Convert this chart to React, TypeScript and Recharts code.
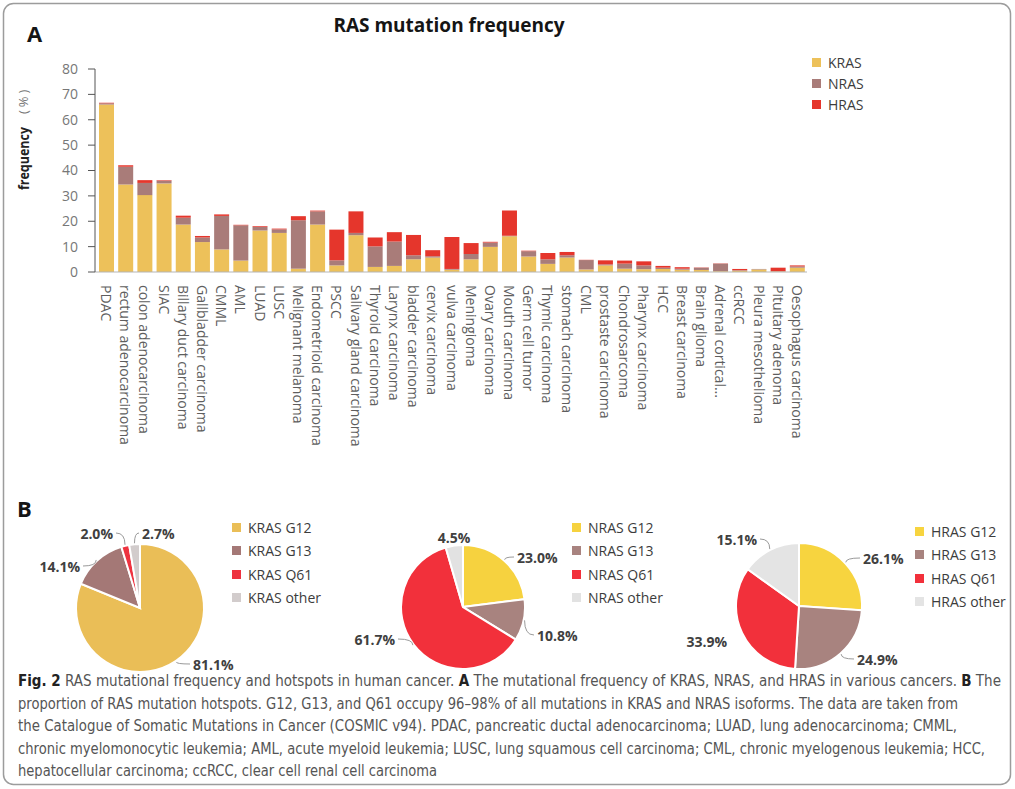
import React from 'react';
import { BarChart, Bar, XAxis, YAxis, Legend, PieChart, Pie, Cell } from 'recharts';

// panel A: mutation frequency (%) per cancer type
const cancers = [
  'PDAC', 'rectum adenocarcinoma', 'colon adenocarcinoma', 'SIAC', 'Billary duct carcinoma',
  'Gallbladder carcinoma', 'CMML', 'AML', 'LUAD', 'LUSC', 'Melignant melanoma',
  'Endometrioid carcinoma', 'PSCC', 'Salivary gland carcinoma', 'Thyroid carcinoma',
  'Larynx carcinoma', 'bladder carcinoma', 'cervix carcinoma', 'vulva carcinoma', 'Meningioma',
  'Ovary carcinoma', 'Mouth carcinoma', 'Germ cell tumor', 'Thymic carcinoma', 'stomach carcinoma',
  'CML', 'prostaste carcinoma', 'Chondrosarcoma', 'Pharynx carcinoma', 'HCC', 'Breast carcinoma',
  'Brain glioma', 'Adrenal cortical...', 'ccRCC', 'Pleura mesothelioma', 'Pituitary adenoma',
  'Oesophagus carcinoma',
];
const krasFreq = [66.0, 34.5, 30.3, 34.9, 18.7, 11.8, 8.9, 4.5, 16.4, 15.4, 1.3, 18.7, 2.6, 14.5, 2.0, 2.4, 5.0, 5.7, 0.9, 5.0, 9.9, 14.1, 6.1, 3.2, 5.7, 1.0, 2.6, 1.3, 1.1, 1.2, 0.9, 0.8, 0.3, 0.5, 1.0, 0.2, 1.7];
const nrasFreq = [0.5, 7.0, 4.8, 1.1, 2.7, 1.8, 13.2, 13.9, 1.3, 1.4, 19.1, 5.2, 2.0, 0.9, 8.1, 9.6, 1.6, 0.5, 0.3, 2.1, 1.7, 0.2, 2.1, 1.8, 0.9, 3.7, 0.4, 2.0, 1.5, 0.5, 0.4, 0.9, 3.0, 0.2, 0.2, 0.1, 0.5];
const hrasFreq = [0.2, 0.6, 1.1, 0.2, 0.8, 0.6, 0.6, 0.2, 0.3, 0.3, 1.6, 0.3, 12.1, 8.5, 3.5, 3.7, 8.0, 2.4, 12.6, 4.3, 0.3, 9.9, 0.2, 2.5, 1.3, 0.1, 1.6, 1.2, 1.6, 0.7, 0.6, 0.1, 0.1, 0.5, 0.0, 1.4, 0.4];
const seriesNames = ['KRAS', 'NRAS', 'HRAS'];
const seriesColors = ['#EDC15A', '#A97C79', '#E5362C'];
const yTicks = [0, 10, 20, 30, 40, 50, 60, 70, 80];

// panel B: hotspot shares (%)
const krasSpots = ['KRAS G12', 'KRAS G13', 'KRAS Q61', 'KRAS other'];
const krasShare = [81.1, 14.1, 2.0, 2.7];
const nrasSpots = ['NRAS G12', 'NRAS G13', 'NRAS Q61', 'NRAS other'];
const nrasShare = [23.0, 10.8, 61.7, 4.5];
const hrasSpots = ['HRAS G12', 'HRAS G13', 'HRAS Q61', 'HRAS other'];
const hrasShare = [26.1, 24.9, 33.9, 15.1];

const krasColors = ['#EABE57', '#A47876', '#EE3340', '#D2CCCC'];
const nrasColors = ['#F6D23F', '#A8837F', '#F2303B', '#E2E2E2'];
const hrasColors = ['#F7D43F', '#A8837F', '#F2303B', '#E4E4E4'];

// where each slice label sits, relative to the pie centre
const krasLabelPos = [
  { dx: 53, dy: 56, anchor: 'start', line: true },
  { dx: -60, dy: -42, anchor: 'end', line: true },
  { dx: -27, dy: -75, anchor: 'end', line: true },
  { dx: 2, dy: -75, anchor: 'start', line: true },
];
const nrasLabelPos = [
  { dx: 54, dy: -50, anchor: 'start', line: true },
  { dx: 74, dy: 28, anchor: 'start', line: true },
  { dx: -68, dy: 32, anchor: 'end', line: true },
  { dx: -9, dy: -70, anchor: 'middle', line: false },
];
const hrasLabelPos = [
  { dx: 64, dy: -48, anchor: 'start', line: true },
  { dx: 58, dy: 53, anchor: 'start', line: true },
  { dx: -72, dy: 35, anchor: 'end', line: false },
  { dx: -42, dy: -67, anchor: 'end', line: true },
];

const FONT = '"Open Sans", "DejaVu Sans", sans-serif';
const CAPTION_FONT = '"Liberation Sans Narrow", "DejaVu Sans Condensed", "Open Sans", sans-serif';
const RADIAN = Math.PI / 180;

const barData = cancers.map((name, i) => ({
  name,
  KRAS: krasFreq[i],
  NRAS: nrasFreq[i],
  HRAS: hrasFreq[i],
}));

const CancerTick = ({ x, y, payload }: any) => (
  <text
    x={x}
    y={y}
    transform={`rotate(90, ${x}, ${y})`}
    textAnchor="start"
    dominantBaseline="central"
    fontSize={14}
    fill="#5e5e5e"
    fontFamily={FONT}
  >
    {payload.value}
  </text>
);

const SwatchLegend = ({ names, colors, rowH }: { names: string[]; colors: string[]; rowH: number }) => (
  <div style={{ fontFamily: FONT, fontSize: 14, color: '#3c3c3c' }}>
    {names.map((n, i) => (
      <div key={n} style={{ display: 'flex', alignItems: 'center', height: rowH, whiteSpace: 'nowrap' }}>
        <span style={{ width: 9, height: 9, background: colors[i], marginRight: 7, display: 'inline-block' }} />
        {n}
      </div>
    ))}
  </div>
);

const makeLabel = (layout: any[]) => (props: any) => {
  const { cx, cy, midAngle, outerRadius, index, value } = props;
  const pos = layout[index];
  const lx = cx + pos.dx;
  const ly = cy + pos.dy;
  const ex = cx + (outerRadius + 1) * Math.cos(-midAngle * RADIAN);
  const ey = cy + (outerRadius + 1) * Math.sin(-midAngle * RADIAN);
  const sx = pos.anchor === 'start' ? lx - 3 : lx + 3;
  return (
    <g>
      {pos.line && (
        <path d={`M ${sx} ${ly} Q ${ex} ${ly} ${ex} ${ey}`} stroke="#9a9a9a" strokeWidth={1} fill="none" />
      )}
      <text
        x={lx}
        y={ly}
        textAnchor={pos.anchor}
        dominantBaseline="central"
        fontSize={14}
        fontWeight={700}
        fill="#404040"
        fontFamily={FONT}
      >
        {`${Number(value).toFixed(1)}%`}
      </text>
    </g>
  );
};

const HotspotPie = ({ names, shares, colors, labelPos, left, cx, cy, r, legendLeft, legendTop }: any) => {
  const data = names.map((name: string, i: number) => ({ name, value: shares[i] }));
  return (
    <div style={{ position: 'absolute', left, top: 490 }}>
      <PieChart width={340} height={186}>
        <Pie
          data={data}
          dataKey="value"
          nameKey="name"
          cx={cx}
          cy={cy}
          outerRadius={r}
          startAngle={90}
          endAngle={-270}
          stroke="#ffffff"
          strokeWidth={2}
          label={makeLabel(labelPos)}
          labelLine={false}
          isAnimationActive={false}
        >
          {data.map((_: any, i: number) => (
            <Cell key={i} fill={colors[i]} />
          ))}
        </Pie>
        <Legend
          layout="vertical"
          align="center"
          verticalAlign="middle"
          wrapperStyle={{ left: legendLeft, top: legendTop, width: 100 }}
          content={() => <SwatchLegend names={names} colors={colors} rowH={23.3} />}
        />
      </PieChart>
    </div>
  );
};

const captionLines = [
  { w: 983, parts: [['Fig. 2', true], [' RAS mutational frequency and hotspots in human cancer. ', false], ['A', true], [' The mutational frequency of KRAS, NRAS, and HRAS in various cancers. ', false], ['B', true], [' The', false]] },
  { w: 940, parts: [['proportion of RAS mutation hotspots. G12, G13, and Q61 occupy 96–98% of all mutations in KRAS and NRAS isoforms. The data are taken from', false]] },
  { w: 939, parts: [['the Catalogue of Somatic Mutations in Cancer (COSMIC v94). PDAC, pancreatic ductal adenocarcinoma; LUAD, lung adenocarcinoma; CMML,', false]] },
  { w: 967, parts: [['chronic myelomonocytic leukemia; AML, acute myeloid leukemia; LUSC, lung squamous cell carcinoma; CML, chronic myelogenous leukemia; HCC,', false]] },
  { w: 419, parts: [['hepatocellular carcinoma; ccRCC, clear cell renal cell carcinoma', false]] },
];

const Overlay = () => (
  <svg width={1015} height={789} style={{ position: 'absolute', left: 0, top: 0 }}>
    <rect x={3.5} y={3.5} width={1007} height={781} rx={10} fill="#ffffff" stroke="#9c9c9c" strokeWidth={1.5} />
    <text x={449} y={25} textAnchor="middle" dominantBaseline="central" fontSize={19} fontWeight={700} fill="#151515" fontFamily={FONT}>
      RAS mutation frequency
    </text>
    <text x={27} y={33} dominantBaseline="central" fontSize={22} fontWeight={700} fill="#151515" fontFamily={FONT}>A</text>
    <text x={17} y={508} dominantBaseline="central" fontSize={22} fontWeight={700} fill="#151515" fontFamily={FONT}>B</text>
    <text
      transform="translate(23,190) rotate(-90)"
      dominantBaseline="central"
      fontSize={14}
      fontWeight={700}
      fill="#222222"
      fontFamily={FONT}
      textLength={63}
      lengthAdjust="spacingAndGlyphs"
    >
      frequency
    </text>
    <text transform="translate(23,114) rotate(-90)" dominantBaseline="central" fontSize={13} fill="#777777" fontFamily={FONT} letterSpacing={3}>
      (%)
    </text>
    {captionLines.map((line, i) => (
      <text
        key={i}
        x={18}
        y={681 + i * 22.6}
        dominantBaseline="central"
        fontSize={15}
        fill="#555555"
        fontFamily={CAPTION_FONT}
        textLength={line.w}
        lengthAdjust="spacingAndGlyphs"
      >
        {line.parts.map(([t, b], j) => (
          <tspan key={j} fontWeight={b ? 700 : 400} fill={b ? '#222222' : '#555555'}>
            {t as string}
          </tspan>
        ))}
      </text>
    ))}
  </svg>
);

export default function App() {
  return (
    <div style={{ position: 'absolute', left: 0, top: 0, width: 1015, height: 789, background: '#ffffff', fontFamily: FONT }}>
      <Overlay />
      <div style={{ position: 'absolute', left: 0, top: 0 }}>
        <BarChart width={1015} height={480} data={barData} margin={{ top: 69, right: 208, bottom: 18, left: 55 }}>
          <XAxis
            dataKey="name"
            interval={0}
            tick={<CancerTick />}
            tickLine={false}
            tickSize={0}
            tickMargin={13}
            height={190}
            padding={{ left: 2, right: 0 }}
            axisLine={{ stroke: '#b5b5b5' }}
          />
          <YAxis
            domain={[0, 80]}
            ticks={yTicks}
            width={40}
            tickSize={7}
            tickMargin={10}
            tick={{ fontSize: 14, fill: '#777777', fontFamily: FONT }}
            tickLine={{ stroke: '#555555' }}
            axisLine={{ stroke: '#555555' }}
          />
          {seriesNames.map((s, i) => (
            <Bar key={s} dataKey={s} name={s} stackId="ras" fill={seriesColors[i]} barSize={15} isAnimationActive={false} />
          ))}
          <Legend
            layout="vertical"
            align="center"
            verticalAlign="middle"
            wrapperStyle={{ left: 812, top: 52, width: 90 }}
            content={() => <SwatchLegend names={seriesNames} colors={seriesColors} rowH={21} />}
          />
        </BarChart>
      </div>
      <HotspotPie names={krasSpots} shares={krasShare} colors={krasColors} labelPos={krasLabelPos} left={0} cx={135} cy={113} r={64} legendLeft={232} legendTop={26} />
      <HotspotPie names={nrasSpots} shares={nrasShare} colors={nrasColors} labelPos={nrasLabelPos} left={340} cx={118} cy={112} r={62} legendLeft={232} legendTop={26} />
      <HotspotPie names={hrasSpots} shares={hrasShare} colors={hrasColors} labelPos={hrasLabelPos} left={675} cx={119} cy={111} r={63} legendLeft={240} legendTop={30} />
    </div>
  );
}
